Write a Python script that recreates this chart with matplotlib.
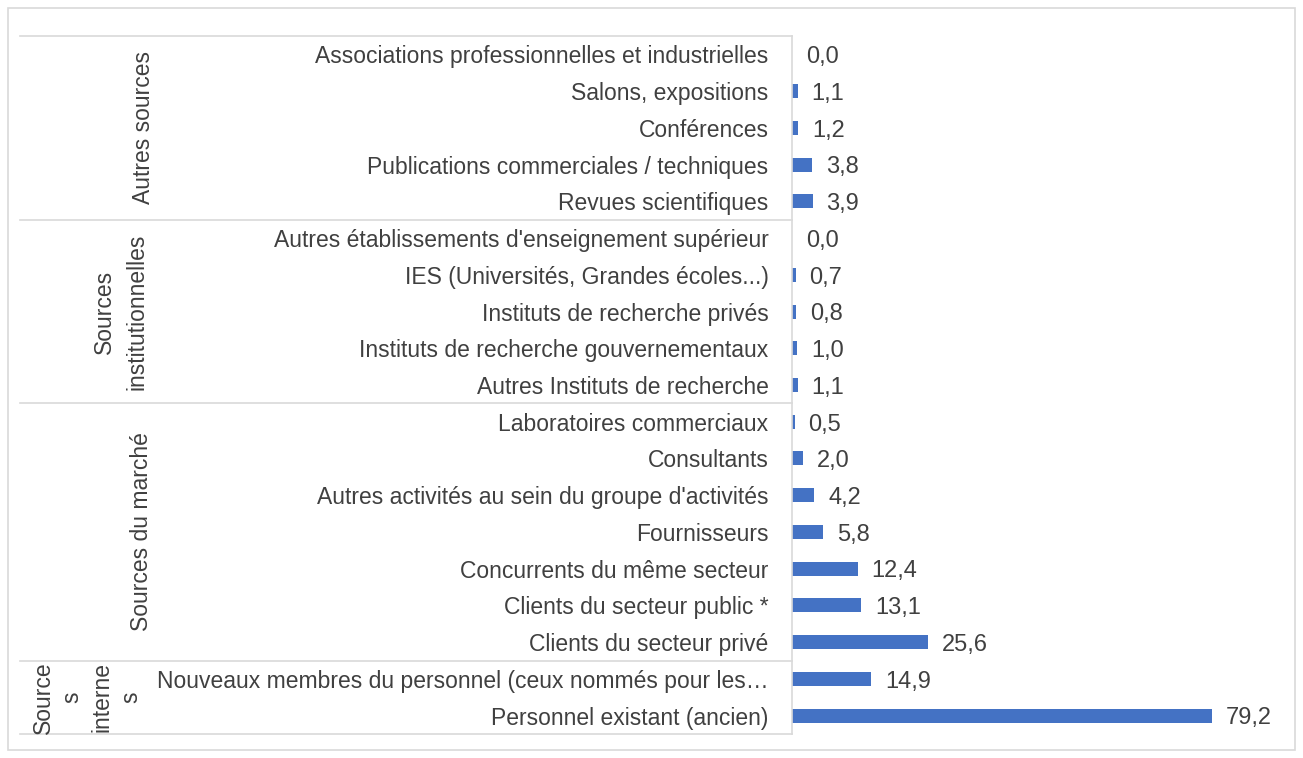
import matplotlib
matplotlib.use("Agg")
import matplotlib.pyplot as plt
from matplotlib.transforms import blended_transform_factory

# DATA
groups = ["Autres sources", "Sources\ninstitutionnelles", "Sources du marché", "Source\ns\ninterne\ns"]
group_sizes = [5, 5, 7, 2]
labels = [
    "Associations professionnelles et industrielles",
    "Salons, expositions",
    "Conférences",
    "Publications commerciales / techniques",
    "Revues scientifiques",
    "Autres établissements d'enseignement supérieur",
    "IES (Universités, Grandes écoles...)",
    "Instituts de recherche privés",
    "Instituts de recherche gouvernementaux",
    "Autres Instituts de recherche",
    "Laboratoires commerciaux",
    "Consultants",
    "Autres activités au sein du groupe d'activités",
    "Fournisseurs",
    "Concurrents du même secteur",
    "Clients du secteur public *",
    "Clients du secteur privé",
    "Nouveaux membres du personnel (ceux nommés pour les…",
    "Personnel existant (ancien)",
]
values = [0.0, 1.1, 1.2, 3.8, 3.9,
          0.0, 0.7, 0.8, 1.0, 1.1,
          0.5, 2.0, 4.2, 5.8, 12.4, 13.1, 25.6,
          14.9, 79.2]

plt.rcParams["font.family"] = ["Liberation Sans", "DejaVu Sans"]
txt = "#404040"
grid = "#d9d9d9"
fs = 16.5

W, H = 1303, 758
fig = plt.figure(figsize=(W / 100, H / 100), dpi=100)
x0, x1, y0, y1 = 792, 1290, 36, 734
ax = fig.add_axes([x0 / W, 1 - y1 / H, (x1 - x0) / W, (y1 - y0) / H])

n = len(labels)
pos = list(range(n))
ax.barh(pos, values, height=0.38, color="#4472C4")
ax.set_ylim(n - 0.5, -0.5)
ax.set_xlim(0, (x1 - x0) / 5.3)
ax.set_yticks(pos)
ax.set_yticklabels(labels, fontsize=fs, color=txt)
ax.tick_params(axis="y", length=0, pad=17)
ax.set_xticks([])
for s in ["top", "right", "bottom"]:
    ax.spines[s].set_visible(False)
ax.spines["left"].set_color(grid)
ax.spines["left"].set_linewidth(1.2)

for p, v in zip(pos, values):
    ax.annotate(f"{v:.1f}".replace(".", ","), (v, p), xytext=(10, -2), textcoords="offset points",
                va="center", ha="left", fontsize=17, color=txt)

# group separators and labels
tr = blended_transform_factory(fig.transFigure, ax.transData)
xl = 20 / W
ax.plot([xl, x0 / W], [-0.5, -0.5], transform=tr, color=grid, lw=1.2, clip_on=False)
start = 0
label_x = [144 / W, 121 / W, 141 / W, 87 / W]
spacing = [1.55, 1.55, 1.55, 1.35]
for g, size, lx, ls in zip(groups, group_sizes, label_x, spacing):
    end = start + size
    ax.plot([xl, x0 / W], [end - 0.5, end - 0.5], transform=tr, color=grid, lw=1.2, clip_on=False)
    ax.text(lx, (start + end - 1) / 2, g, transform=tr, rotation=90, ha="center", va="center",
            fontsize=fs, color=txt, linespacing=ls, multialignment="center")
    start = end

# outer border
fig.patches.append(plt.Rectangle((8 / W, 8 / H), 1 - 16 / W, 1 - 16 / H, transform=fig.transFigure,
                                 fill=False, edgecolor=grid, lw=1.2))

fig.savefig("out.png", dpi=100)
